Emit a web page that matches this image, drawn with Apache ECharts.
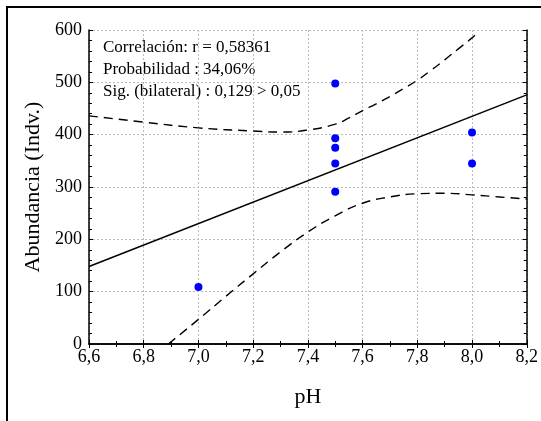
<!DOCTYPE html>
<html>
<head>
<meta charset="utf-8">
<script src="https://cdn.jsdelivr.net/npm/echarts@6/dist/echarts.min.js"></script>
<style>
  html, body { margin: 0; padding: 0; background: #fff; }
  #chart { width: 541px; height: 421px; }
</style>
</head>
<body>
<div id="chart"></div>
<script>
// puntos observados (pH, abundancia)
const puntos = [
    [7.0, 109],
    [7.5, 498], [7.5, 393], [7.5, 375], [7.5, 345], [7.5, 291],
    [8.0, 404], [8.0, 345]
];
// recta de regresion
const recta = [[6.6, 148], [8.2, 476]];
// bandas de confianza
const bandaSup = [
    [6.6, 436], [6.8, 424], [7.0, 413], [7.2, 407], [7.3, 405], [7.4, 409],
    [7.5, 420], [7.55, 432], [7.6, 446], [7.65, 459], [7.7, 473], [7.75, 488],
    [7.8, 504], [7.85, 523], [7.9, 543], [7.95, 564], [8.0, 585], [8.02, 595]
];
const bandaInf = [
    [6.89, 0], [7.0, 47], [7.1, 91], [7.2, 134], [7.3, 176], [7.4, 214],
    [7.5, 245], [7.6, 269], [7.7, 281], [7.8, 287], [7.9, 288], [8.0, 285],
    [8.1, 281], [8.2, 277]
];
const textos = [
    'Correlación: r = 0,58361',
    'Probabilidad : 34,06%',
    'Sig. (bilateral) : 0,129 > 0,05'
];

const fuente = 'Liberation Serif';
const coma = v => v.toFixed(1).replace('.', ',');

const chart = echarts.init(document.getElementById('chart'));

const ejeX = {
    type: 'value', min: 6.6, max: 8.2, interval: 0.2,
    axisLine: { lineStyle: { color: '#000', width: 1.5 } },
    axisTick: { inside: true, length: 4, lineStyle: { color: '#000' } },
    minorTick: { show: true, splitNumber: 2, length: 3, lineStyle: { color: '#000' } }
};
const ejeY = {
    type: 'value', min: 0, max: 600, interval: 100,
    axisLine: { lineStyle: { color: '#000', width: 1.5 } },
    axisTick: { inside: true, length: 4, lineStyle: { color: '#000' } },
    minorTick: { show: true, splitNumber: 5, length: 3, lineStyle: { color: '#000' } }
};

chart.setOption({
    backgroundColor: '#fff',
    animation: false,
    textStyle: { fontFamily: fuente },
    grid: { left: 89, right: 10, top: 30, bottom: 77, containLabel: false },
    graphic: [{
        type: 'rect', z: -10,
        shape: { x: 7, y: 7, width: 560, height: 440 },
        style: { fill: 'none', stroke: '#000', lineWidth: 2 }
    }].concat(textos.map((t, i) => ({
        type: 'text', x: 103, y: 39 + i * 22,
        style: { text: t, font: '17px "Liberation Serif"', fill: '#000' }
    }))),
    xAxis: [
        Object.assign({}, ejeX, {
            position: 'bottom',
            name: 'pH', nameLocation: 'middle', nameGap: 42,
            nameTextStyle: { fontSize: 22, color: '#000', fontFamily: fuente },
            axisLabel: { fontSize: 18, color: '#000', margin: 4, formatter: coma, fontFamily: fuente },
            splitLine: { show: true, lineStyle: { color: '#bbb', type: [2, 2] } }
        }),
        Object.assign({}, ejeX, {
            position: 'top', axisLabel: { show: false }, splitLine: { show: false }
        })
    ],
    yAxis: [
        Object.assign({}, ejeY, {
            position: 'left',
            name: 'Abundancia (Indv.)', nameLocation: 'middle', nameGap: 44,
            nameTextStyle: { fontSize: 22, color: '#000', fontFamily: fuente },
            axisLabel: { fontSize: 18, color: '#000', margin: 7, fontFamily: fuente },
            splitLine: { show: true, lineStyle: { color: '#bbb', type: [2, 2] } }
        }),
        Object.assign({}, ejeY, {
            position: 'right', axisLabel: { show: false }, splitLine: { show: false }
        })
    ],
    series: [
        {
            type: 'line', data: bandaSup, smooth: 0.5, symbol: 'none',
            lineStyle: { color: '#000', width: 1.4, type: [9, 6] }
        },
        {
            type: 'line', data: bandaInf, smooth: 0.5, symbol: 'none',
            lineStyle: { color: '#000', width: 1.4, type: [9, 6] }
        },
        {
            type: 'line', data: recta, symbol: 'none',
            lineStyle: { color: '#000', width: 1.5 }
        },
        {
            type: 'scatter', data: puntos, symbolSize: 8, z: 5,
            itemStyle: { color: '#0000ff', opacity: 1 }
        }
    ]
});
</script>
</body>
</html>
